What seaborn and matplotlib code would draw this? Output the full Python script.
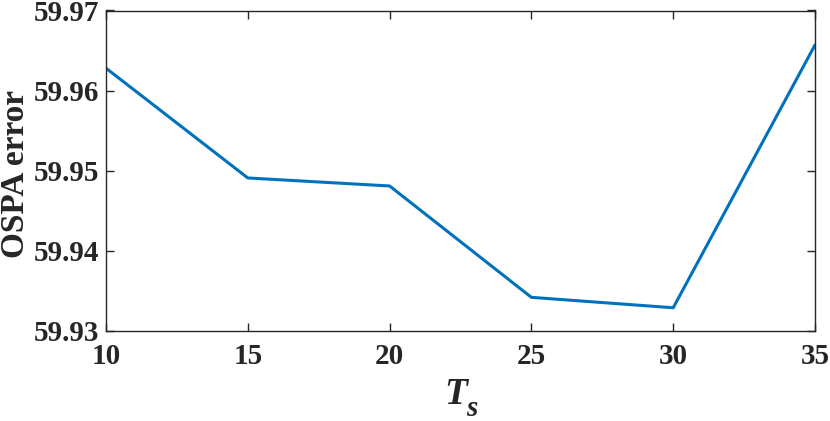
import matplotlib
matplotlib.use("Agg")
import matplotlib.pyplot as plt
import seaborn as sns
import pandas as pd

ts_values = [10, 15, 20, 25, 30, 35]
ospa_error = [59.9628, 59.9491, 59.9481, 59.9342, 59.9329, 59.9657]
x_ticks = [10, 15, 20, 25, 30, 35]
y_ticks = [59.93, 59.94, 59.95, 59.96, 59.97]

sns.set_theme(style="white")
plt.rcParams['font.family'] = ['Liberation Serif', 'DejaVu Serif']
plt.rcParams['font.weight'] = 'bold'

df = pd.DataFrame({"Ts": ts_values, "err": ospa_error})

fig = plt.figure(figsize=(8.3, 4.21), dpi=100)
ax = fig.add_axes([106/830, 1 - 331/421, (815-106)/830, (331-10.5)/421])
sns.lineplot(data=df, x="Ts", y="err", ax=ax, color="#0072BD", linewidth=2.2)

ax.set_xlim(10, 35)
ax.set_ylim(59.93, 59.97)
ax.set_xticks(x_ticks)
ax.set_yticks(y_ticks)
ax.set_xticklabels([str(v) for v in x_ticks], fontsize=21, fontweight='bold', color='#262626')
ax.set_yticklabels([f"{v:.2f}" for v in y_ticks], fontsize=21, fontweight='bold', color='#262626')
ax.tick_params(direction='in', length=6, width=1, color='#262626', top=True, right=True,
               bottom=True, left=True)
ax.tick_params(axis='x', pad=9)
ax.tick_params(axis='y', pad=5)
for s in ax.spines.values():
    s.set_color('#262626')
    s.set_linewidth(1)
    s.set_visible(True)
ax.set_xlabel('T', fontsize=27, fontstyle='italic', fontweight='bold', color='#262626')
ax.xaxis.set_label_coords((456 - 106) / 709, (331 - 377) / 320.5)
ax.text(472/830, 1 - 416/421, 's', transform=fig.transFigure, fontsize=21, fontstyle='italic',
        fontweight='bold', color='#262626', ha='center', va='baseline')
ax.set_ylabel('OSPA error', fontsize=24, fontweight='bold', color='#262626')
ax.yaxis.set_label_coords((16 - 106) / 709, (331 - 173.5) / 320.5)
ax.yaxis.label.set_verticalalignment('center')
ax.grid(False)

fig.savefig("out.png", dpi=100)
